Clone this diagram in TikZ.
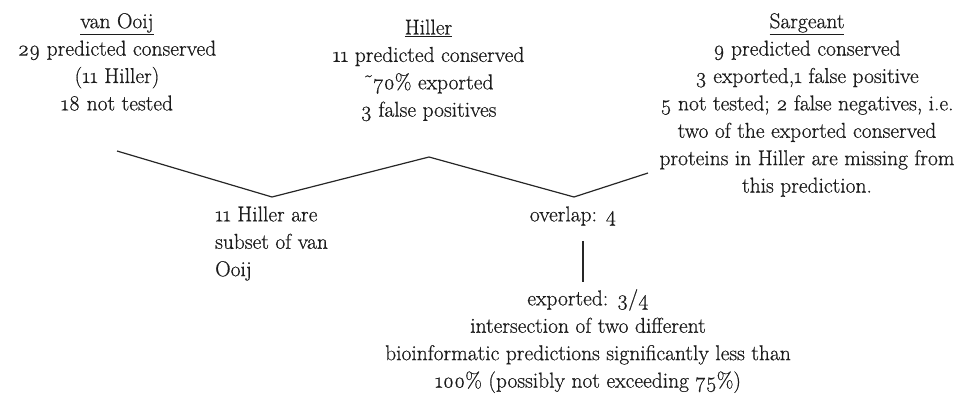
\documentclass[tikz,border=0pt]{standalone}
\usepackage{fontspec}
\usepackage{xcolor}
\usepackage{tikz}
\newfontfamily\notefont{Latin Modern Roman}[FakeBold=0.6]
\definecolor{inkgrey}{HTML}{1C1C1C}
\definecolor{linkgrey}{HTML}{262626}
\newcommand{\osn}[1]{\oldstylenums{#1}}
\tikzset{
  txt/.style   = {inner sep=0pt, text=inkgrey, align=center,
                  font=\notefont\fontsize{21.5}{27.4}\selectfont},
  block/.style = {txt, anchor=north},
  note/.style  = {txt, anchor=north west, align=left},
  link/.style  = {linkgrey, line width=1.2pt},
}

\begin{document}
\begin{tikzpicture}[x=1pt,y=-1pt]
  \useasboundingbox (0,0) rectangle (972,395);
  % the three predictions
  \node[block] (vanooij) at (117,8.8)
    {\strut\underline{van Ooij}\\ \osn{29} predicted conserved\\
     (\osn{11} Hiller)\\ \osn{18} not tested};
  \node[block] (hiller) at (428.5,15.1)
    {\strut\underline{Hiller}\\ \osn{11} predicted conserved\\
     \symbol{"02DC}\osn{70}\% exported\\ \osn{3} false positives};
  \node[block] (sargeant) at (807,8.8)
    {\strut\underline{Sargeant}\\ \osn{9} predicted conserved\\
     \osn{3} exported,\osn{1} false positive\\
     \osn{5} not tested; \osn{2} false negatives, i.e.\\
     two of the exported conserved\\
     proteins in Hiller are missing from\\ this prediction.};
  % what the pairs share
  \node[note] (subset) at (215,202)
    {\strut\osn{11} Hiller are\\ subset of van\\ Ooij};
  \node[block] (overlap) at (573,202) {\strut overlap: \osn{4}};
  \node[block] (exported) at (588,286)
    {\strut exported: \osn{3}/\osn{4}\\ intersection of two different\\
     bioinformatic predictions significantly less than\\
     \osn{100}\% (possibly not exceeding \osn{75}\%)};
  \coordinate (ooijfoot)   at (117,151);
  \coordinate (subsettop)  at (272,197);
  \coordinate (hillerfoot) at (429,157);
  \coordinate (overlaptop) at (574,197);
  \coordinate (sargfoot)   at (648,173);
  \draw[link] (ooijfoot) -- (subsettop) -- (hillerfoot) -- (overlaptop) -- (sargfoot);
  \draw[link, shorten <=11pt, shorten >=4pt]
    (overlap.south -| 583,0) -- (exported.north -| 583,0);
\end{tikzpicture}
\end{document}
